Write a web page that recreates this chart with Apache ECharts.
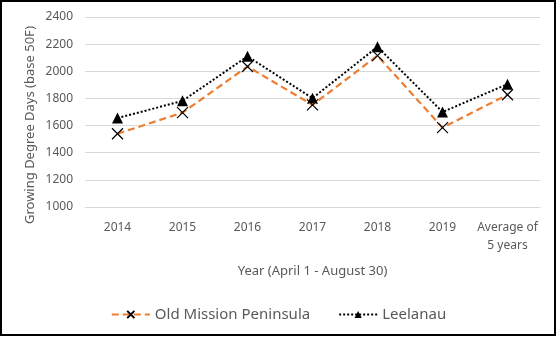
<!DOCTYPE html>
<html>
<head>
<meta charset="utf-8">
<script src="https://cdn.jsdelivr.net/npm/echarts@6/dist/echarts.min.js"></script>
<style>html,body{margin:0;padding:0;background:#fff}#c{width:557px;height:338px}</style>
</head>
<body>
<div id="c"></div>
<script>
var categories = ['2014', '2015', '2016', '2017', '2018', '2019', 'Average of\n5 years'];
var oldMission = [1540, 1695, 2035, 1752, 2115, 1585, 1827];
var leelanau = [1655, 1782, 2110, 1802, 2180, 1700, 1905];
var yTicks = {min: 1000, max: 2400, interval: 200};

var FONT = 'Noto Sans';
var chart = echarts.init(document.getElementById('c'), null, {renderer: 'canvas'});
chart.setOption({
  animation: false,
  backgroundColor: '#fff',
  grid: {left: 85, right: 17, top: 17, bottom: 131},
  xAxis: {
    type: 'category',
    data: categories,
    boundaryGap: true,
    axisLine: {show: true, lineStyle: {color: '#D9D9D9', width: 1}},
    axisTick: {show: false},
    axisLabel: {color: '#595959', fontFamily: FONT, fontSize: 12, margin: 12, lineHeight: 18, interval: 0},
    name: 'Year (April 1 - August 30)',
    nameLocation: 'middle',
    nameGap: 58,
    nameTextStyle: {color: '#595959', fontFamily: FONT, fontSize: 13}
  },
  yAxis: {
    type: 'value',
    min: yTicks.min, max: yTicks.max, interval: yTicks.interval,
    axisLine: {show: false},
    axisTick: {show: false},
    splitLine: {lineStyle: {color: '#D9D9D9', width: 1}},
    axisLabel: {color: '#595959', fontFamily: FONT, fontSize: 12, margin: 12, formatter: function (v) { return String(v); }}
  },
  graphic: [
    {type: 'text', x: 30, y: 125, rotation: Math.PI / 2,
     style: {text: 'Growing Degree Days (base 50F)', fill: '#595959', font: '13px "Noto Sans"', textAlign: 'center', textVerticalAlign: 'middle'}},
    {type: 'rect', shape: {x: 1, y: 1, width: 554, height: 334}, style: {fill: 'none', stroke: '#000', lineWidth: 2}, silent: true}
  ],
  legend: {
    bottom: 11,
    left: 'center',
    itemWidth: 38,
    itemHeight: 9,
    itemGap: 28,
    textStyle: {color: '#595959', fontFamily: FONT, fontSize: 15},
    data: ['Old Mission Peninsula', 'Leelanau']
  },
  series: [
    {
      name: 'Old Mission Peninsula',
      type: 'line',
      data: oldMission,
      symbol: 'path://M0,0L10,10M10,0L0,10',
      symbolSize: 11,
      lineStyle: {color: '#ED7D31', width: 2.2, type: [7, 4]},
      itemStyle: {color: 'rgba(0,0,0,0)', borderColor: '#000', borderWidth: 1.2},
      z: 3
    },
    {
      name: 'Leelanau',
      type: 'line',
      data: leelanau,
      symbol: 'triangle',
      symbolSize: 11,
      lineStyle: {color: '#000', width: 2, type: [2, 2]},
      itemStyle: {color: '#000', borderColor: '#000', borderWidth: 0},
      z: 2
    }
  ]
});
</script>
</body>
</html>
